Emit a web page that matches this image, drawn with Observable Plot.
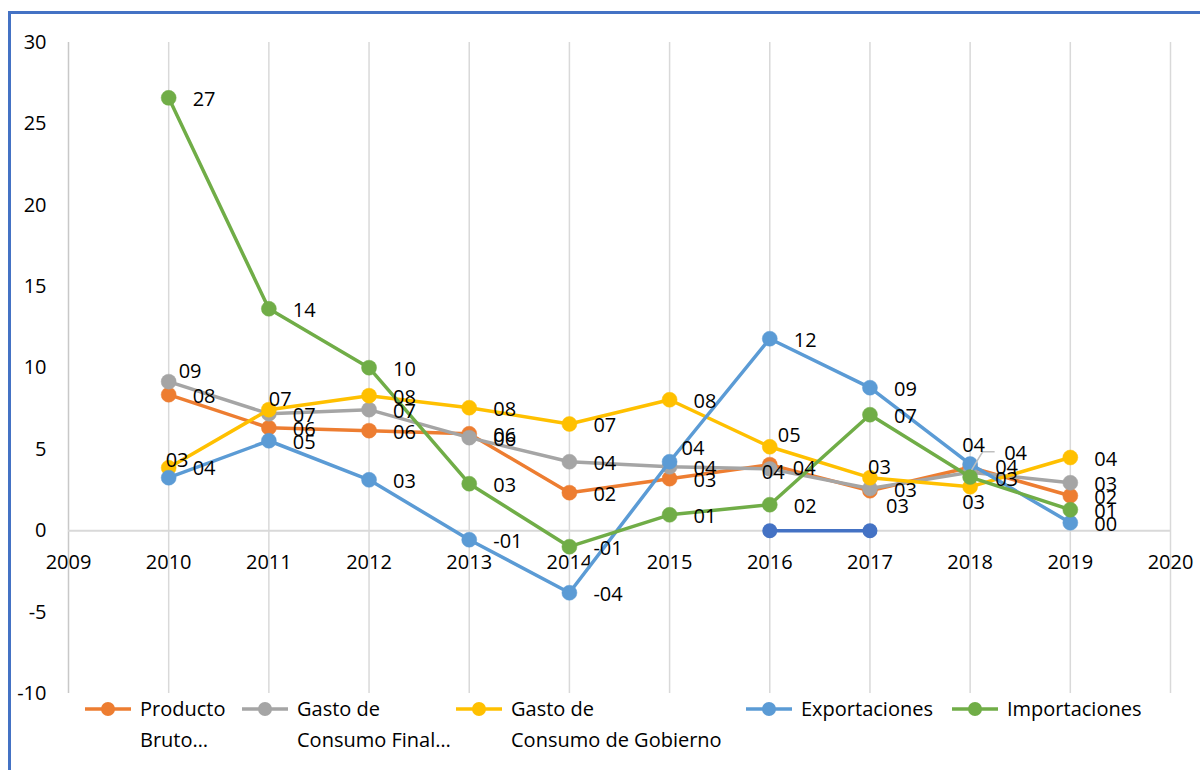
<!DOCTYPE html>
<html>
<head>
<meta charset="utf-8">
<script src="https://cdn.jsdelivr.net/npm/d3@7"></script>
<script src="https://cdn.jsdelivr.net/npm/@observablehq/plot@0.6"></script>
<style>
  html, body { margin: 0; padding: 0; background: #fff; width: 1200px; height: 770px; overflow: hidden; }
  #frame { position: absolute; left: 8px; top: 11px; width: 1300px; height: 900px; border: 3px solid #4472C4; box-sizing: border-box; }
  #chart { position: absolute; left: 0; top: 0; }
  #legend { position: absolute; left: 0; top: 693px; width: 1200px; height: 77px; font-family: "Open Sans", sans-serif; font-size: 20px; color: #000; }
  .item { position: absolute; top: 0; display: flex; align-items: flex-start; }
  .item svg { flex: none; margin-right: 9px; margin-top: 0; }
  .item .txt { line-height: 31px; white-space: nowrap; }
</style>
</head>
<body>
<div id="frame"></div>
<div id="chart"></div>
<div id="legend"></div>
<script>
// ---- data ----
const years = [2010, 2011, 2012, 2013, 2014, 2015, 2016, 2017, 2018, 2019];
const gridYears = [2009, 2010, 2011, 2012, 2013, 2014, 2015, 2016, 2017, 2018, 2019, 2020];
const yTicks = [-10, -5, 0, 5, 10, 15, 20, 25, 30];

const productoBruto   = [8.36, 6.33, 6.15, 5.96, 2.34, 3.20, 4.06, 2.46, 3.90, 2.15];
const consumoFinal    = [9.16, 7.19, 7.44, 5.72, 4.24, 3.93, 3.80, 2.60, 3.60, 2.95];
const consumoGobierno = [3.87, 7.44, 8.30, 7.56, 6.56, 8.05, 5.16, 3.26, 2.70, 4.50];
const exportaciones   = [3.26, 5.53, 3.13, -0.55, -3.81, 4.24, 11.80, 8.79, 4.10, 0.49];
const importaciones   = [26.60, 13.64, 10.02, 2.89, -0.98, 0.98, 1.60, 7.13, 3.30, 1.29];
const serieSinNombre  = [null, null, null, null, null, null, 0, 0, null, null];

const labelsProducto  = ["08", "06", "06", "06", "02", "03", "04", "03", "04", "02"];
const labelsFinal     = ["09", "07", "07", "06", "04", "04", "04", "03", "04", "03"];
const labelsGobierno  = ["03", "07", "08", "08", "07", "08", "05", "03", "03", "04"];
const labelsExport    = ["04", "05", "03", "-01", "-04", "04", "12", "09", "04", "00"];
const labelsImport    = ["27", "14", "10", "03", "-01", "01", "02", "07", "03", "01"];

const seriesNames = ["Producto Bruto…", "Gasto de Consumo Final…", "Gasto de Consumo de Gobierno", "Exportaciones", "Importaciones"];
const legendLines = [["Producto", "Bruto…"], ["Gasto de", "Consumo Final…"], ["Gasto de", "Consumo de Gobierno"], ["Exportaciones"], ["Importaciones"]];

// ---- styles ----
const colors = ["#ED7D31", "#A5A5A5", "#FFC000", "#5B9BD5", "#70AD47"];
const extraColor = "#4472C4";
const font = "'Open Sans', 'Liberation Sans', sans-serif";

// label placement tweaks (pixel offsets from the point), default right of point
const defaultNudge = [24, 2];
const nudges = {
  "1|2010": [10, -10], "2|2010": [-3, -7], "3|2010": [24, -9],
  "2|2011": [0, -10],
  "3|2015": [12, -13],
  "2|2016": [8, -11], "1|2016": [-8, 4], "0|2016": [23, 4],
  "2|2017": [-2, -10], "0|2017": [16, 16],
  "3|2018": [-8, -18], "0|2018": [34, -14], "1|2018": [25, -5], "4|2018": [25, 3], "2|2018": [-8, 16]
};

const seriesValues = [productoBruto, consumoFinal, consumoGobierno, exportaciones, importaciones];
const seriesLabels = [labelsProducto, labelsFinal, labelsGobierno, labelsExport, labelsImport];

const rows = seriesValues.map((vals, s) => years.map((yr, i) => ({ s, year: yr, value: vals[i], label: seriesLabels[s][i] })));
const extraRows = years.map((yr, i) => ({ year: yr, value: serieSinNombre[i] })).filter(d => d.value !== null);

const marks = [
  Plot.ruleX(gridYears.slice(1), { y1: -10, y2: 30, stroke: "#d9d9d9", strokeWidth: 1.5 }),
  Plot.ruleX([2009], { y1: -10, y2: 30, stroke: "#c8c8c8", strokeWidth: 1.5 }),
  Plot.ruleY([0], { x1: 2009, x2: 2020, stroke: "#d9d9d9", strokeWidth: 2 }),
  Plot.axisY({ ticks: yTicks, tickSize: 0, tickPadding: 22, tickFormat: d => String(d), fontSize: 20, fill: "#000", label: null }),
  Plot.text(gridYears, { x: d => d, y: 0, text: d => String(d), dy: 32, fontSize: 20, fill: "#000" })
];

rows.forEach((data, s) => {
  marks.push(Plot.line(data, { x: "year", y: "value", stroke: colors[s], strokeWidth: 3.5, strokeLinejoin: "round" }));
  marks.push(Plot.dot(data, { x: "year", y: "value", r: 7.5, fill: colors[s], stroke: colors[s], strokeWidth: 0.5 }));
});
marks.push(Plot.line(extraRows, { x: "year", y: "value", stroke: extraColor, strokeWidth: 3.5 }));
marks.push(Plot.dot(extraRows, { x: "year", y: "value", r: 7.5, fill: extraColor }));

// leader line for the displaced label of Producto Bruto 2018
marks.push((index, scales) => {
  const x = scales.x(2018), y = scales.y(productoBruto[8]);
  const p = d3.create("svg:path")
    .attr("d", `M${x + 2},${y + 3}L${x + 13},${y - 15}L${x + 25},${y - 15}`)
    .attr("fill", "none").attr("stroke", "#bfbfbf").attr("stroke-width", 1.5);
  return p.node();
});

// data labels
rows.forEach((data, s) => {
  data.forEach(d => {
    const [dx, dy] = nudges[`${s}|${d.year}`] || defaultNudge;
    marks.push(Plot.text([d], { x: "year", y: "value", text: "label", dx, dy, textAnchor: "start", fontSize: 20, fill: "#000" }));
  });
});

const chart = Plot.plot({
  width: 1200,
  height: 700,
  marginTop: 42,
  marginBottom: 7,
  marginLeft: 68,
  marginRight: 30,
  x: { domain: [2009, 2020], axis: null },
  y: { domain: [-10, 30], axis: null },
  style: { fontFamily: font, fontSize: "20px", color: "#000", background: "transparent", overflow: "visible" },
  marks
});
document.getElementById("chart").appendChild(chart);

// ---- legend ----
const legendLeft = [85, 242, 456, 746, 952];
const legend = document.getElementById("legend");
seriesNames.forEach((name, i) => {
  const item = document.createElement("div");
  item.className = "item";
  item.style.left = legendLeft[i] + "px";
  item.title = name;
  const sw = d3.create("svg").attr("width", 46).attr("height", 31);
  sw.append("line").attr("x1", 0).attr("x2", 46).attr("y1", 16).attr("y2", 16).attr("stroke", colors[i]).attr("stroke-width", 3.5);
  sw.append("circle").attr("cx", 23).attr("cy", 16).attr("r", 7).attr("fill", colors[i]);
  item.appendChild(sw.node());
  const txt = document.createElement("div");
  txt.className = "txt";
  legendLines[i].forEach((line, k) => {
    if (k) txt.appendChild(document.createElement("br"));
    txt.appendChild(document.createTextNode(line));
  });
  item.appendChild(txt);
  legend.appendChild(item);
});
</script>
</body>
</html>
